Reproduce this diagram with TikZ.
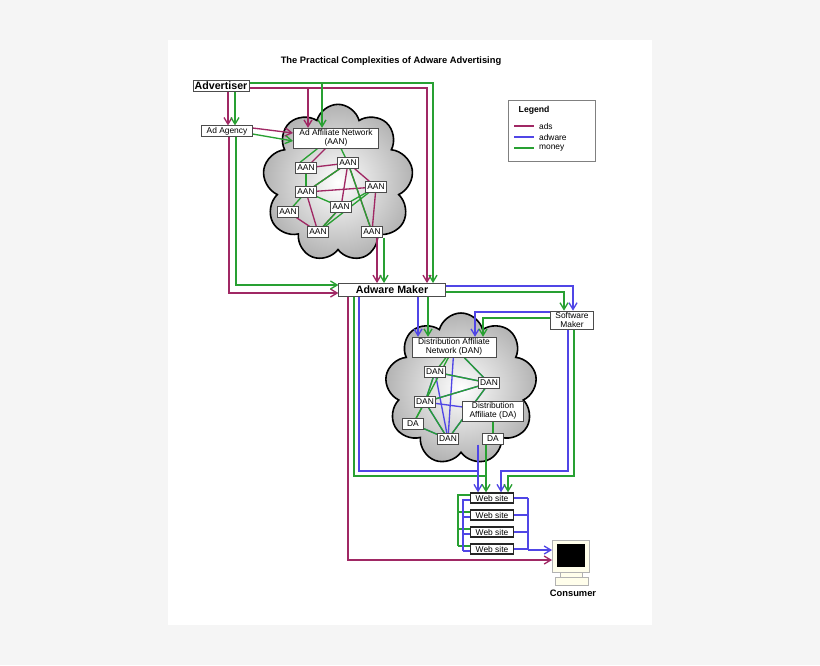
\documentclass[tikz,border=0pt]{standalone}
\usepackage{fontspec}
\setmainfont{Liberation Sans}
\usetikzlibrary{arrows.meta,shapes.symbols}
\definecolor{ads}{RGB}{160,40,100}
\definecolor{adw}{RGB}{80,70,230}
\definecolor{mon}{RGB}{40,160,50}
\pgfdeclarelayer{bg}\pgfdeclarelayer{mid}\pgfdeclarelayer{back}
\pgfsetlayers{back,bg,mid,main}
\begin{document}
\begin{tikzpicture}[x=0.75pt,y=-0.75pt,
  box/.style={draw=black!70,fill=white,inner sep=1pt,font=\fontsize{6.3}{7}\selectfont,align=center},
  sbox/.style={box,minimum width=16pt,minimum height=8pt},
  wbox/.style={box,line width=1pt,draw=black!85,minimum width=32pt,minimum height=7.5pt},
  bbox/.style={draw=black!70,fill=white,inner sep=1pt,font=\fontsize{8}{9}\selectfont\bfseries},
  cl/.style={cloud,cloud puffs=9,draw=black,line width=1.2pt,inner color=white,outer color=black!30,aspect=0.95},
  ar/.style={-{Straight Barb[length=5pt,width=6pt]}},
  la/.style={line width=1pt,ads},lb/.style={line width=1pt,adw},lm/.style={line width=1pt,mon}]
\useasboundingbox (0,0) rectangle (820,665);
\begin{pgfonlayer}{back}
\fill[black!4] (0,0) rectangle (820,665);
\fill[white] (168,40) rectangle (652,625);
\end{pgfonlayer}
\node[font=\fontsize{7}{8}\selectfont\bfseries] (title) at (391,61) {The Practical Complexities of Adware Advertising};
% clouds
\begin{pgfonlayer}{bg}
\node[cl,minimum width=113pt,minimum height=118pt] (c1) at (338,183) {};
\node[cl,minimum width=114pt,minimum height=114pt] (c2) at (461,389) {};
\end{pgfonlayer}
% nodes
\node[bbox,minimum width=42pt] (adv) at (221,86) {Advertiser};
\node[box,minimum width=38pt] (ag) at (227,131) {Ad Agency};
\node[box,minimum width=64pt] (aan) at (336,138) {Ad Affiliate Network\\(AAN)};
\node[sbox] (a1) at (306,168) {AAN};
\node[sbox] (a2) at (348,163) {AAN};
\node[sbox] (a3) at (306,192) {AAN};
\node[sbox] (a4) at (376,187) {AAN};
\node[sbox] (a5) at (288,212) {AAN};
\node[sbox] (a6) at (341,207) {AAN};
\node[sbox] (a7) at (318,232) {AAN};
\node[sbox] (a8) at (372,232) {AAN};
\node[bbox,minimum width=80pt,minimum height=10pt] (am) at (392,290) {Adware Maker};
\node[box,minimum width=32pt] (sm) at (572,320) {Software\\Maker};
\node[box,minimum width=63pt] (dan) at (454,347) {Distribution Affiliate\\Network (DAN)};
\node[sbox] (d1) at (435,372) {DAN};
\node[sbox] (d2) at (489,383) {DAN};
\node[sbox] (d3) at (425,402) {DAN};
\node[box,minimum width=46pt] (da) at (493,411) {Distribution\\Affiliate (DA)};
\node[sbox] (d4) at (413,424) {DA};
\node[sbox] (d5) at (448,439) {DAN};
\node[sbox] (d6) at (493,439) {DA};
\node[wbox] (w1) at (492,498) {Web site};
\node[wbox] (w2) at (492,515) {Web site};
\node[wbox] (w3) at (492,532) {Web site};
\node[wbox] (w4) at (492,549) {Web site};
% consumer
\node[draw=black!30,fill=yellow!8,minimum width=28pt,minimum height=24pt,inner sep=0pt] (cons) at (571,556) {};
\fill[black] (557,544) rectangle (585,567);
\fill[yellow!8,draw=black!30] (560,572) rectangle (582,577);
\fill[yellow!8,draw=black!30] (555,577) rectangle (588,585);
\node[font=\fontsize{7}{8}\selectfont\bfseries] (consl) at (573,593) {Consumer};
% legend
\node[draw=black!50,fill=white,minimum width=65pt,minimum height=46pt,inner sep=0pt] (leg) at (552,131) {};
\node[font=\fontsize{6.5}{7}\selectfont\bfseries,anchor=west] (legt) at (514,110) {Legend};
\draw[la] (514,126) -- (534,126) node[right,black,font=\fontsize{6.3}{7}\selectfont] (l1) {ads};
\draw[lb] (514,137) -- (534,137) node[right,black,font=\fontsize{6.3}{7}\selectfont] (l2) {adware};
\draw[lm] (514,148) -- (534,148) node[right,black,font=\fontsize{6.3}{7}\selectfont] (l3) {money};
\begin{pgfonlayer}{mid}
% advertiser
\draw[la,ar] (adv.east |- 0,88) -- (427,88) -- (am.north -| 427,0);
\draw[lm,ar] (adv.east |- 0,83) -- (433,83) -- (am.north -| 433,0);
\draw[la,ar] (adv.south -| 228,0) -- (ag.north -| 228,0);
\draw[lm,ar] (adv.south -| 235,0) -- (ag.north -| 235,0);
\draw[la,ar] (308,88) -- (aan.north -| 308,0);
\draw[lm,ar] (322,83) -- (aan.north -| 322,0);
\draw[la,ar] (ag.east |- 0,128) -- (aan.west |- 0,133);
\draw[lm,ar] (ag.east |- 0,134) -- (aan.west |- 0,141);
\draw[la,ar] (ag.south -| 229,0) -- (229,293) -- (am.west |- 0,293);
\draw[lm,ar] (ag.south -| 236,0) -- (236,285) -- (am.west |- 0,285);
\draw[la,ar] (a8.south -| 377,0) -- (am.north -| 377,0);
\draw[lm,ar] (a8.south -| 384,0) -- (am.north -| 384,0);
% AAN internals
\foreach \p/\q in {aan/a1,a1/a2,a2/a3,a2/a6,a2/a8,a3/a7,a3/a4,a5/a7,a4/a8,a6/a7,a2/a4}
  \draw[la] (\p) -- (\q);
\foreach \p/\q in {aan/a2,a1/a3,a3/a6,a5/a3,a4/a6,a7/a6,a2/a8,a4/a7,a3/a2}
  \draw[lm] (\p) -- (\q);
\draw[lm] (aan.south -| 318,0) -- (a1.north -| 300,0);
% adware maker
\draw[lb,ar] (am.east |- 0,286) -- (573,286) -- (sm.north -| 573,0);
\draw[lm,ar] (am.east |- 0,292) -- (564,292) -- (sm.north -| 564,0);
\draw[lb,ar] (am.south -| 418,0) -- (dan.north -| 418,0);
\draw[lm,ar] (am.south -| 428,0) -- (dan.north -| 428,0);
\draw[lb,ar] (sm.west |- 0,312) -- (475,312) -- (dan.north -| 475,0);
\draw[lm,ar] (sm.west |- 0,318) -- (483,318) -- (dan.north -| 483,0);
\draw[lb,ar] (sm.south -| 568,0) -- (568,471) -- (501,471) -- (w1.north -| 501,0);
\draw[lm,ar] (sm.south -| 574,0) -- (574,476) -- (508,476) -- (w1.north -| 508,0);
\draw[lb] (am.south -| 359,0) -- (359,471) -- (478,471);
\draw[lm] (am.south -| 354,0) -- (354,476) -- (486,476);
\draw[lb,ar] (d6.south -| 478,0) -- (w1.north -| 478,0);
\draw[lm,ar] (d6.south -| 486,0) -- (w1.north -| 486,0);
\draw[la,ar] (am.south -| 348,0) -- (348,560) -- (cons.west |- 0,560);
% DAN internals
\foreach \p/\q in {dan/d5,dan/d2,d1/d2,d1/d5,d3/d2,d3/d5,d4/d5,d2/d5,d1/d3,da/d6,d3/da}
  \draw[lb] (\p) -- (\q);
\foreach \p/\q in {dan/d1,d1/d3,d3/d4,d4/d5,d2/d3,dan/d2,d2/d5,d3/d5,d1/d2,da/d6,dan/d4}
  \draw[lm] (\p) -- (\q);
% web sites
\draw[lm] (458,494) -- (458,546);
\foreach \w in {w1,w2,w3,w4} \draw[lm] (458,0 |- \w.west) ++(0,-3) -- ++(12,0);
\draw[lb] (463,499) -- (463,551);
\foreach \w in {w1,w2,w3,w4} {\draw[lb] (463,0 |- \w.west) ++(0,2) -- ++(7,0);
  \draw[lb] (\w.east) -- (528,0 |- \w.east);}
\draw[lb] (528,498) -- (528,550);
\draw[lb,ar] (528,550) -- (cons.west |- 0,550);
\end{pgfonlayer}
\end{tikzpicture}
\end{document}
